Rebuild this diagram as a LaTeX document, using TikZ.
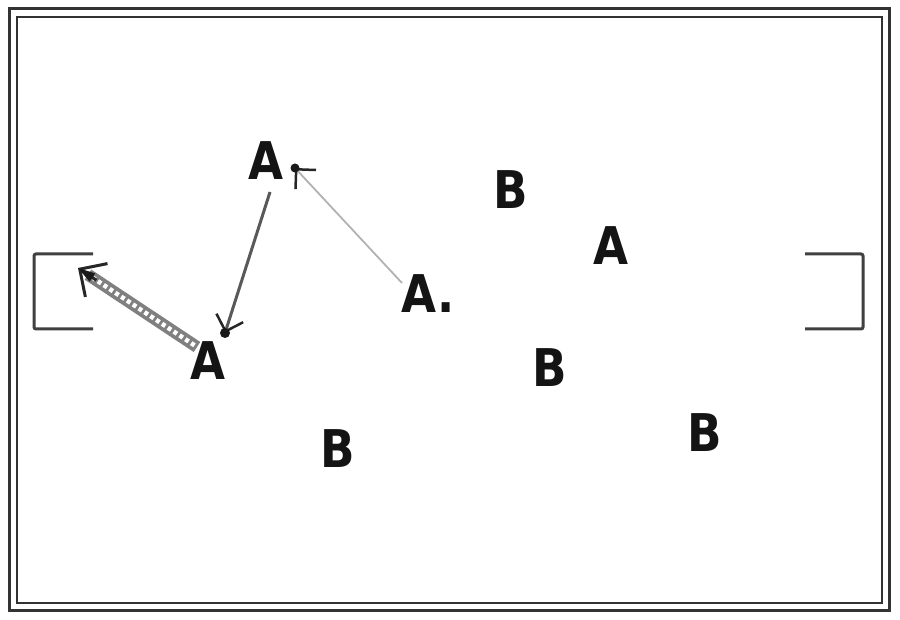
\documentclass[tikz,border=0pt]{standalone}
\usepackage{fontspec}
\setmainfont{DejaVu Sans}
\usetikzlibrary{arrows.meta,calc}
\newcommand\plname[1]{\scalebox{0.87}[1]{#1}}
\begin{document}
\begin{tikzpicture}[x=1pt,y=-1pt,
  player/.style={font=\fontsize{52}{52}\selectfont\bfseries, inner sep=0pt, text=black!92},
  frameline/.style={draw=black!80},
  goalline/.style={draw=black!75, line width=3pt, rounded corners=2pt},
  barb/.style={-{Straight Barb[length=#1, width=2*#1, line width=2.5pt, color=black!85]}},
  tipdot/.style={fill=black!90, draw=none},
  pass/.style={draw=black!30, line width=1.8pt},
  run/.style={draw=black!65, line width=3pt},
  dribble/.style={draw=black!50, line width=12pt},
  dribblecore/.style={draw=white, line width=4.5pt, dash pattern=on 4pt off 3pt}
]
\useasboundingbox (0,0) rectangle (900,620);
\fill[white] (0,0) rectangle (900,620);
% field border
\draw[frameline, line width=3pt] (9,9) rectangle (889,610);
\draw[frameline, line width=2pt] (17,17) rectangle (882,603);
% goals
\draw[goalline] (93,254) -- (34,254) -- (34,329) -- (93,329);
\draw[goalline] (805,254) -- (863,254) -- (863,329) -- (805,329);
% players
\node[player] (a1) at (266,161) {\plname{A}};
\node[player] (a2) at (208,361) {\plname{A}};
\node[player, anchor=west] (a3) at (401,294) {\plname{A.}};
\node[player] (a4) at (611,246) {\plname{A}};
\node[player] (b1) at (511,190) {\plname{B}};
\node[player] (b2) at (550,368) {\plname{B}};
\node[player] (b3) at (338,449) {\plname{B}};
\node[player] (b4) at (705,433) {\plname{B}};
% connector end points
\coordinate (p1s) at (402,283);
\coordinate (p1e) at (295,168);
\coordinate (p2s) at (270,192);
\coordinate (p2e) at (225,333);
\coordinate (p3s) at (197,347);
\coordinate (p3e) at (78,268);
% pass A. -> top A
\draw[pass, barb=14pt] (p1s) -- (p1e);
\fill[tipdot] (p1e) circle (4.5pt);
% run top A -> bottom A
\draw[run, barb=14pt] (p2s) -- (p2e);
\fill[tipdot] (p2e) circle (5pt);
% dribble bottom A -> goal
\draw[dribble, shorten >=12pt] (p3s) -- (p3e);
\draw[dribblecore, shorten >=18pt, shorten <=3pt] (p3s) -- (p3e);
\draw[draw=black!85, line width=3pt, -{Straight Barb[length=20pt, width=40pt, line width=3pt, color=black!85]}] ($(p3e)!22pt!(p3s)$) -- (p3e);
\fill[tipdot] (p3e) -- ($(p3e)!18pt!16:(p3s)$) -- ($(p3e)!18pt!-16:(p3s)$) -- cycle;
\end{tikzpicture}
\end{document}
